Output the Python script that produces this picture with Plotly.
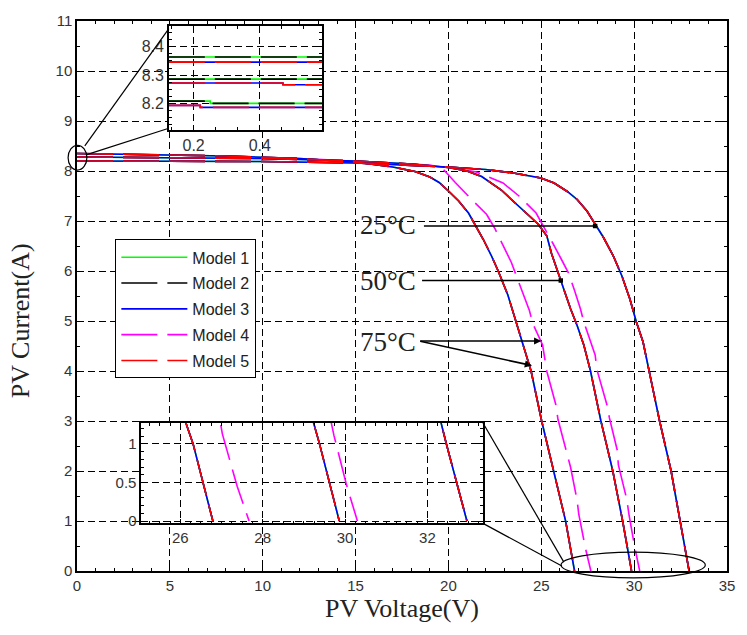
import plotly.graph_objects as go

# ---------------- data ----------------
# Models 1, 2, 3 and 5 (practically coincident)
v25 = [0, 5, 10, 15, 18, 20, 22, 23.5, 24.98, 25.69, 26.4, 26.93, 27.46, 27.9, 28.35,
       28.88, 29.33, 29.77, 30.12, 30.48, 30.8, 31.37, 31.99, 32.46, 32.96]
i25 = [8.2, 8.2, 8.19, 8.16, 8.12, 8.08, 8.03, 7.96, 7.86, 7.76, 7.59, 7.43, 7.2, 6.93, 6.67,
       6.3, 5.91, 5.44, 4.98, 4.58, 4.0, 3.0, 2.0, 1.0, 0]
v50 = [0, 5, 10, 15, 18, 20, 21, 21.79, 22.32, 22.85, 23.39, 23.92, 24.36, 24.85, 25.3,
       25.55, 26.05, 26.58, 26.93, 27.29, 27.65, 28.21, 28.85, 29.38, 29.86]
i50 = [8.28, 8.27, 8.25, 8.2, 8.14, 8.07, 8.0, 7.89, 7.76, 7.62, 7.43, 7.26, 7.1, 6.93, 6.7,
       6.35, 5.81, 5.24, 4.91, 4.52, 4.0, 3.0, 2.0, 1.0, 0]
v75 = [0, 4, 8, 12, 15, 17, 18.2, 19, 19.5, 20, 20.55, 21.08, 21.44, 21.88, 22.32, 22.68,
       23.2, 23.65, 24.0, 24.45, 25.02, 25.66, 26.31, 26.79]
i75 = [8.35, 8.33, 8.3, 8.25, 8.18, 8.08, 7.99, 7.88, 7.77, 7.6, 7.4, 7.16, 6.93, 6.63, 6.3,
       6.0, 5.52, 4.98, 4.52, 4.0, 3.0, 2.0, 1.0, 0]

# Model 4 (differs at 50 and 75 degC)
v50_m4 = [0, 5, 10, 15, 18, 20, 21.5, 22.94, 23.8, 24.72, 25.16, 25.6, 26.13, 26.49, 26.8,
          27.11, 27.29, 27.6, 27.9, 28.0, 28.53, 28.67, 29.1, 29.15, 29.6, 29.73, 30.03, 30.3]
i50_m4 = [8.28, 8.27, 8.25, 8.2, 8.14, 8.08, 7.98, 7.76, 7.5, 7.16, 6.87, 6.57, 6.2, 5.94, 5.6,
          5.24, 4.98, 4.65, 4.32, 4.02, 3.33, 3.06, 2.4, 2.12, 1.44, 1.11, 0.48, 0]
v75_m4 = [0, 4, 8, 12, 15, 17, 18.95, 19.66, 20.0, 20.37, 21.2, 22.06, 22.5, 23.39, 23.65,
          24.36, 24.54, 25.07, 25.3, 25.78, 25.9, 26.4, 26.58, 26.93, 27.02, 27.38, 27.67]
i75_m4 = [8.35, 8.33, 8.3, 8.25, 8.2, 8.16, 8.12, 8.06, 7.93, 7.77, 7.45, 7.13, 6.85, 6.17, 5.91,
          5.21, 4.95, 4.52, 3.99, 3.33, 3.03, 2.33, 2.07, 1.41, 1.13, 0.45, 0]

# Top-left zoom (short-circuit region)
tl_v = [0.125, 0.22, 0.25, 0.47, 0.6]
i75_m12 = [8.364, 8.364, 8.364, 8.364, 8.364]
i75_m35 = [8.346, 8.346, 8.346, 8.346, 8.346]
i50_m12 = [8.286, 8.286, 8.286, 8.286, 8.286]
i50_m35 = [8.272, 8.272, 8.272, 8.266, 8.266]
i25_m12 = [8.208, 8.208, 8.200, 8.200, 8.200]
i25_m35 = [8.193, 8.186, 8.186, 8.186, 8.186]

model_names = ["Model 1", "Model 2", "Model 3", "Model 4", "Model 5"]
temp_labels = ["25°C", "50°C", "75°C"]
# arrows: (tail V, tail I, head V, head I)
arrows_25 = [(18.6, 6.9, 27.9, 6.9)]
arrows_50 = [(18.5, 5.81, 26.05, 5.81)]
arrows_75 = [(18.4, 4.6, 25.0, 4.6), (18.4, 4.6, 24.5, 4.11)]
label_pos = [(16.75, 6.92), (16.75, 5.8), (16.75, 4.58)]

# ---------------- styling ----------------
colors = {"Model 1": "#00FF00", "Model 2": "#000000", "Model 3": "#0000FF",
          "Model 4": "#FF00FF", "Model 5": "#FF0000"}
dashes = {"Model 1": "solid", "Model 2": "36px,10px", "Model 3": "solid",
          "Model 4": "36px,10px", "Model 5": "36px,10px"}
draw_order = ["Model 4", "Model 1", "Model 2", "Model 3", "Model 5"]

curves = {
    "Model 1": [(v25, i25), (v50, i50), (v75, i75)],
    "Model 2": [(v25, i25), (v50, i50), (v75, i75)],
    "Model 3": [(v25, i25), (v50, i50), (v75, i75)],
    "Model 4": [(v25, i25), (v50_m4, i50_m4), (v75_m4, i75_m4)],
    "Model 5": [(v25, i25), (v50, i50), (v75, i75)],
}
tl_curves = {
    "Model 1": [i25_m12, i50_m12, i75_m12],
    "Model 2": [i25_m12, i50_m12, i75_m12],
    "Model 3": [i25_m35, i50_m35, i75_m35],
    "Model 5": [i25_m35, i50_m35, i75_m35],
}

fig = go.Figure()

for m in draw_order:
    for k, (vx, iy) in enumerate(curves[m]):
        fig.add_trace(go.Scatter(
            x=vx, y=iy, mode="lines", name=m,
            line=dict(color=colors[m], width=1.6, dash=dashes[m]),
            showlegend=(k == 0), legendgroup=m,
            legendrank=model_names.index(m) + 1,
            xaxis="x", yaxis="y", hoverinfo="skip"))

# bottom zoom uses the same curves
for m in draw_order:
    for vx, iy in curves[m]:
        fig.add_trace(go.Scatter(
            x=vx, y=iy, mode="lines", showlegend=False,
            line=dict(color=colors[m], width=1.6, dash=dashes[m]),
            xaxis="x3", yaxis="y3", hoverinfo="skip"))

# top-left zoom
for m in ["Model 1", "Model 2", "Model 3", "Model 5"]:
    for iy in tl_curves[m]:
        fig.add_trace(go.Scatter(
            x=tl_v, y=iy, mode="lines", showlegend=False, line_shape="hv",
            line=dict(color=colors[m], width=1.6, dash=dashes[m]),
            xaxis="x2", yaxis="y2", hoverinfo="skip"))

tick_font = dict(family="Liberation Sans, Arial, sans-serif", size=15, color="#333333")
inset_font = dict(family="Liberation Sans, Arial, sans-serif", size=16, color="#333333")
serif = "Liberation Serif, Times New Roman, serif"

grid = dict(showgrid=True, gridcolor="black", gridwidth=1.4, griddash="7px,4px",
            showline=True, linecolor="black", linewidth=1.5, mirror="ticks",
            ticks="inside", ticklen=5, tickcolor="black", zeroline=False)

# inset placements (paper fractions) and ranges
tl_dom_x, tl_dom_y = [0.1413, 0.3769], [0.8014, 0.991]
tl_rx, tl_ry = [0.125, 0.588], [8.105, 8.474]
br_dom_x, br_dom_y = [0.0988, 0.6246], [0.0866, 0.269]
br_rx, br_ry = [25.05, 33.35], [-0.03, 1.27]

fig.update_layout(
    width=747, height=635,
    margin=dict(l=77, r=12, t=17, b=64),
    paper_bgcolor="white", plot_bgcolor="white",
    font=dict(family="Liberation Sans, Arial, sans-serif", color="#222222"),
    xaxis=dict(range=[0, 35], dtick=5, tick0=0, tickfont=tick_font,
               minor=dict(dtick=1, ticks="inside", ticklen=3, tickcolor="black", showgrid=False),
               title=dict(text="PV Voltage(V)", font=dict(family=serif, size=26, color="#222"),
                          standoff=6),
               **grid),
    yaxis=dict(range=[0, 11], dtick=1, tick0=0, tickfont=tick_font,
               minor=dict(dtick=0.5, ticks="inside", ticklen=3, tickcolor="black", showgrid=False),
               **grid),
    xaxis2=dict(domain=tl_dom_x, anchor="y2", range=tl_rx, dtick=0.2, tick0=0,
                tickfont=inset_font, tickformat=".1f",
                minor=dict(dtick=0.2 / 3, ticks="inside", ticklen=3, tickcolor="black", showgrid=False),
                **grid),
    yaxis2=dict(domain=tl_dom_y, anchor="x2", range=tl_ry, dtick=0.1, tick0=0,
                tickfont=inset_font, tickformat=".1f",
                minor=dict(dtick=0.025, ticks="inside", ticklen=3, tickcolor="black", showgrid=False),
                **grid),
    xaxis3=dict(domain=br_dom_x, anchor="y3", range=br_rx, dtick=2, tick0=0,
                tickfont=tick_font,
                minor=dict(dtick=0.25, ticks="inside", ticklen=3, tickcolor="black", showgrid=False),
                **grid),
    yaxis3=dict(domain=br_dom_y, anchor="x3", range=br_ry, dtick=0.5, tick0=0,
                tickfont=tick_font,
                minor=dict(dtick=0.1, ticks="inside", ticklen=3, tickcolor="black", showgrid=False),
                **grid),
    legend=dict(x=0.059, y=0.603, xanchor="left", yanchor="top",
                bgcolor="white", bordercolor="black", borderwidth=1,
                font=dict(family="Liberation Sans, Arial, sans-serif", size=16, color="#222"),
                traceorder="grouped", tracegroupgap=2, itemwidth=66),
)

shapes = [
    # white backgrounds behind the zoom windows
    dict(type="rect", xref="x2", yref="y2", x0=tl_rx[0], x1=tl_rx[1], y0=tl_ry[0], y1=tl_ry[1],
         fillcolor="white", line=dict(width=0), layer="below"),
    dict(type="rect", xref="x3", yref="y3", x0=br_rx[0], x1=br_rx[1], y0=br_ry[0], y1=br_ry[1],
         fillcolor="white", line=dict(width=0), layer="below"),
    # ellipses marking zoomed regions
    dict(type="circle", xref="paper", yref="paper", x0=-0.0137, x1=0.0152, y0=0.729, y1=0.774,
         line=dict(color="black", width=1.2)),
    dict(type="circle", xref="paper", yref="paper", x0=0.7447, x1=0.9666, y0=-0.0126, y1=0.0343,
         line=dict(color="black", width=1.2)),
    # connectors
    dict(type="line", xref="paper", yref="paper", x0=0.012, y0=0.773, x1=tl_dom_x[0], y1=0.986,
         line=dict(color="black", width=1.2)),
    dict(type="line", xref="paper", yref="paper", x0=0.015, y0=0.757, x1=tl_dom_x[0], y1=0.805,
         line=dict(color="black", width=1.2)),
    dict(type="line", xref="paper", yref="paper", x0=br_dom_x[1], y0=br_dom_y[1], x1=0.749, y1=0.0162,
         line=dict(color="black", width=1.2)),
    dict(type="line", xref="paper", yref="paper", x0=br_dom_x[1], y0=br_dom_y[0], x1=0.746, y1=0.009,
         line=dict(color="black", width=1.2)),
]
fig.update_layout(shapes=shapes)

annotations = [
    # y-axis title (placed a little below centre as in the reference)
    dict(x=-0.087, y=0.455, xref="paper", yref="paper", text="PV Current(A)", textangle=-90,
         showarrow=False, xanchor="center", yanchor="middle",
         font=dict(family=serif, size=26, color="#222")),
]
for (x, y), t in zip(label_pos, temp_labels):
    annotations.append(dict(x=x, y=y, xref="x", yref="y", text=t, showarrow=False,
                            font=dict(family=serif, size=27, color="#222")))
for arr, head in [(arrows_25, 7), (arrows_50, 7), (arrows_75, 2)]:
    for (tx, ty, hx, hy) in arr:
        annotations.append(dict(x=hx, y=hy, ax=tx, ay=ty, xref="x", yref="y",
                                axref="x", ayref="y", text="", showarrow=True,
                                arrowhead=head, arrowsize=0.9 if head == 2 else 0.7,
                                arrowwidth=1.6, arrowcolor="black"))
fig.update_layout(annotations=annotations)

fig.write_html("out.html")
